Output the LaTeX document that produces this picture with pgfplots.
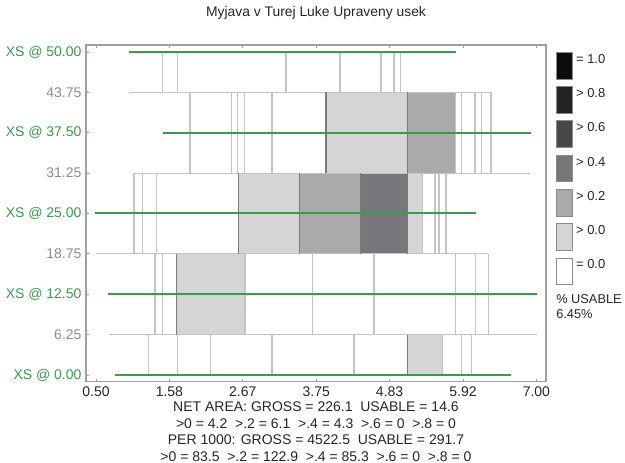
\documentclass[border=0pt]{standalone}
\usepackage{fontspec}
\setmainfont{Liberation Sans}
\usepackage{pgfplots}
\pgfplotsset{compat=1.18}

\definecolor{xsgreen}{HTML}{3A9A4E}
\definecolor{cellline}{HTML}{C4C4C4}
\definecolor{edgeline}{HTML}{7C7C7C}
\definecolor{cA}{HTML}{0B0B10}
\definecolor{cB}{HTML}{222327}
\definecolor{cC}{HTML}{46484B}
\definecolor{cD}{HTML}{76777A}
\definecolor{cE}{HTML}{A9AAAC}
\definecolor{cF}{HTML}{D4D5D7}
\definecolor{framegray}{HTML}{A0A0A0}
\definecolor{lblgray}{HTML}{8C8C8C}
\definecolor{txtdark}{HTML}{262626}
\definecolor{legborder}{HTML}{8A8A8A}

\begin{document}
\begin{tikzpicture}
\useasboundingbox (-64.5pt,-61.125pt) rectangle (404.25pt,286.125pt);
\begin{axis}[
  scale only axis, width=345pt, height=252.375pt,
  xmin=0.3524, xmax=7.1417, ymin=-1.006, ymax=51.08,
  clip mode=individual,
  axis line style={framegray, line width=1pt},
  xtick={0.5,1.58333,2.66667,3.75,4.83333,5.91667,7.0},
  xticklabels={0.50,1.58,2.67,3.75,4.83,5.92,7.00},
  ytick={0,6.25,12.5,18.75,25,31.25,37.5,43.75,50},
  yticklabels={{\textcolor{xsgreen}{XS @ 0.00}},{6.25},{\textcolor{xsgreen}{XS @ 12.50}},{18.75},{\textcolor{xsgreen}{XS @ 25.00}},{31.25},{\textcolor{xsgreen}{XS @ 37.50}},{43.75},{\textcolor{xsgreen}{XS @ 50.00}}},
  tick style={framegray, line width=0.6pt},
  tick align=inside, major tick length=2pt,
  xtick pos=both, ytick pos=left,
  /pgf/number format/assume math mode=true,
  tick label style={font=\fontsize{10.5}{12}\selectfont},
  xticklabel style={anchor=base, yshift=-10.9pt, inner sep=0pt, text=txtdark},
  yticklabel style={anchor=east, inner sep=0pt, xshift=-3.2pt, text=lblgray},
  unbounded coords=jump,
  legend cell align=left,
  legend style={at={(1,1)}, anchor=north west, xshift=7.5pt, yshift=-5pt,
    draw=none, fill=none, inner sep=0pt, row sep=5.15pt, column sep=2.25pt,
    font=\fontsize{9.75}{11}\selectfont, text=txtdark,
    cells={anchor=base west}, nodes={inner sep=0pt}},
  legend image code/.code={\draw[#1, draw=legborder, line width=0.6pt] (0pt,-11.7pt) rectangle (12pt,8.25pt);},
]
% legend
\addlegendimage{fill=cA}\addlegendentry{= 1.0}
\addlegendimage{fill=cB}\addlegendentry{> 0.8}
\addlegendimage{fill=cC}\addlegendentry{> 0.6}
\addlegendimage{fill=cD}\addlegendentry{> 0.4}
\addlegendimage{fill=cE}\addlegendentry{> 0.2}
\addlegendimage{fill=cF}\addlegendentry{> 0.0}
\addlegendimage{fill=white}\addlegendentry{= 0.0}

% shaded cells
\addplot[fill=cF, draw=none, forget plot] coordinates {(3.895,31.25) (5.095,31.25) (5.095,43.75) (3.895,43.75) (3.895,31.25)};
\addplot[fill=cE, draw=none, forget plot] coordinates {(5.095,31.25) (5.809,31.25) (5.809,43.75) (5.095,43.75) (5.095,31.25)};
\addplot[fill=cF, draw=none, forget plot] coordinates {(2.600,18.75) (3.501,18.75) (3.501,31.25) (2.600,31.25) (2.600,18.75)};
\addplot[fill=cE, draw=none, forget plot] coordinates {(3.501,18.75) (4.407,18.75) (4.407,31.25) (3.501,31.25) (3.501,18.75)};
\addplot[fill=cD, draw=none, forget plot] coordinates {(4.407,18.75) (5.101,18.75) (5.101,31.25) (4.407,31.25) (4.407,18.75)};
\addplot[fill=cF, draw=none, forget plot] coordinates {(5.101,18.75) (5.316,18.75) (5.316,31.25) (5.101,31.25) (5.101,18.75)};
\addplot[fill=cF, draw=none, forget plot] coordinates {(1.691,6.25) (2.699,6.25) (2.699,18.75) (1.691,18.75) (1.691,6.25)};
\addplot[fill=cF, draw=none, forget plot] coordinates {(5.101,0) (5.617,0) (5.617,6.25) (5.101,6.25) (5.101,0)};

% light cell boundaries (vertical)
\addplot[cellline, line width=0.85pt, forget plot] coordinates {
 (1.484,43.75) (1.484,50) (nan,nan) (1.700,43.75) (1.700,50) (nan,nan)
 (3.304,43.75) (3.304,50) (nan,nan) (4.101,43.75) (4.101,50) (nan,nan)
 (4.706,43.75) (4.706,50) (nan,nan) (4.898,43.75) (4.898,50) (nan,nan)
 (4.997,43.75) (4.997,50) (nan,nan)
 (1.887,31.25) (1.887,43.75) (nan,nan) (2.503,31.25) (2.503,43.75) (nan,nan)
 (2.586,31.25) (2.586,43.75) (nan,nan) (2.695,31.25) (2.695,43.75) (nan,nan)
 (3.098,31.25) (3.098,43.75) (nan,nan) (5.809,31.25) (5.809,43.75) (nan,nan)
 (5.898,31.25) (5.898,43.75) (nan,nan) (6.094,31.25) (6.094,43.75) (nan,nan)
 (6.193,31.25) (6.193,43.75) (nan,nan) (6.330,31.25) (6.330,43.75) (nan,nan)
 (1.061,18.75) (1.061,31.25) (nan,nan) (1.189,18.75) (1.189,31.25) (nan,nan)
 (1.390,18.75) (1.390,31.25) (nan,nan) (5.316,18.75) (5.316,31.25) (nan,nan)
 (5.504,18.75) (5.504,31.25) (nan,nan) (5.563,18.75) (5.563,31.25) (nan,nan)
 (5.666,18.75) (5.666,31.25) (nan,nan)
 (1.371,6.25) (1.371,18.75) (nan,nan) (1.484,6.25) (1.484,18.75) (nan,nan)
 (2.699,6.25) (2.699,18.75) (nan,nan) (3.699,6.25) (3.699,18.75) (nan,nan)
 (4.603,6.25) (4.603,18.75) (nan,nan) (5.809,6.25) (5.809,18.75) (nan,nan)
 (6.104,6.25) (6.104,18.75) (nan,nan) (6.290,6.25) (6.290,18.75) (nan,nan)
 (1.272,0) (1.272,6.25) (nan,nan) (1.700,0) (1.700,6.25) (nan,nan)
 (2.193,0) (2.193,6.25) (nan,nan) (3.098,0) (3.098,6.25) (nan,nan)
 (4.308,0) (4.308,6.25) (nan,nan) (5.617,0) (5.617,6.25) (nan,nan)
 (5.898,0) (5.898,6.25) (nan,nan) (6.045,0) (6.045,6.25)
};
% light cell boundaries (horizontal)
\addplot[cellline, line width=0.85pt, forget plot] coordinates {
 (0.987,43.75) (6.330,43.75) (nan,nan)
 (1.061,31.25) (6.906,31.25) (nan,nan)
 (0.500,18.75) (6.290,18.75) (nan,nan)
 (0.696,6.25) (7.005,6.25)
};
% darker edges of shaded cells
\addplot[edgeline, line width=0.9pt, forget plot] coordinates {
 (3.895,31.25) (3.895,43.75) (nan,nan) (5.095,31.25) (5.095,43.75) (nan,nan)
 (2.600,18.75) (2.600,31.25) (nan,nan) (3.501,18.75) (3.501,31.25) (nan,nan)
 (4.407,18.75) (4.407,31.25) (nan,nan) (5.101,18.75) (5.101,31.25) (nan,nan)
 (1.691,6.25) (1.691,18.75) (nan,nan) (5.101,0) (5.101,6.25)
};
% cross-section lines
\addplot[draw=xsgreen, line width=1.3pt, forget plot] coordinates {
 (0.987,50) (5.809,50) (nan,nan)
 (1.484,37.5) (6.916,37.5) (nan,nan)
 (0.490,25.02) (6.104,25.02) (nan,nan)
 (0.680,12.5) (7.014,12.5) (nan,nan)
 (0.780,0) (6.620,0)
};

% texts
\node[anchor=base, font=\fontsize{10.4}{12}\selectfont, text=txtdark] at (axis description cs:0.5,1) [yshift=21pt] {Myjava v Turej Luke Upraveny usek};
\node[anchor=base west, inner sep=0pt, font=\fontsize{9.6}{11}\selectfont, text=txtdark] at (axis description cs:1,1) [xshift=7.5pt, yshift=-193.7pt] {\% USABLE};
\node[anchor=base west, inner sep=0pt, font=\fontsize{9.6}{11}\selectfont, text=txtdark] at (axis description cs:1,1) [xshift=7.5pt, yshift=-205.5pt] {6.45\%};
\node[anchor=base, font=\fontsize{10.5}{12}\selectfont, text=txtdark] at (axis description cs:0.5,0) [yshift=-22.6pt] {NET AREA: GROSS = 226.1\hspace{0.55em}USABLE = 14.6};
\node[anchor=base, font=\fontsize{10.5}{12}\selectfont, text=txtdark] at (axis description cs:0.5,0) [yshift=-34.9pt] {>0 = 4.2\hspace{0.55em}>.2 = 6.1\hspace{0.55em}>.4 = 4.3\hspace{0.55em}>.6 = 0\hspace{0.55em}>.8 = 0};
\node[anchor=base, font=\fontsize{10.5}{12}\selectfont, text=txtdark] at (axis description cs:0.5,0) [yshift=-47.6pt] {PER 1000: GROSS = 4522.5\hspace{0.55em}USABLE = 291.7};
\node[anchor=base, font=\fontsize{10.5}{12}\selectfont, text=txtdark] at (axis description cs:0.5,0) [yshift=-60.2pt] {>0 = 83.5\hspace{0.55em}>.2 = 122.9\hspace{0.55em}>.4 = 85.3\hspace{0.55em}>.6 = 0\hspace{0.55em}>.8 = 0};
\end{axis}
\end{tikzpicture}
\end{document}
